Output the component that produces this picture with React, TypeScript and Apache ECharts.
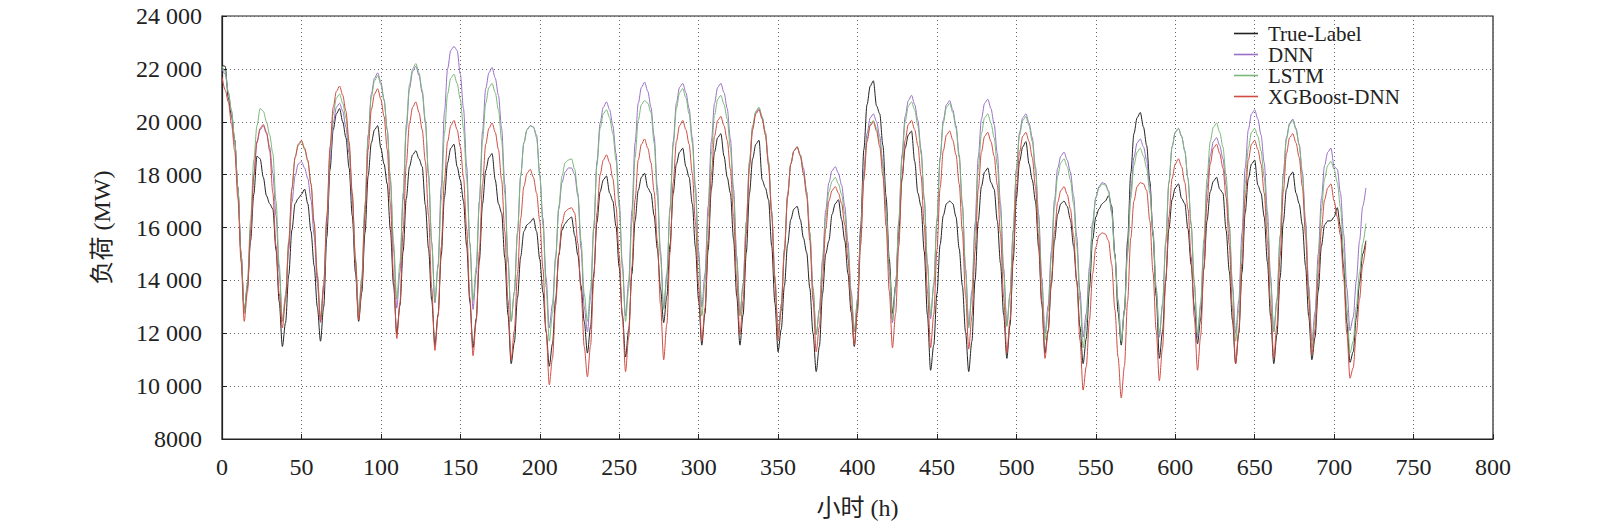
import React, { useEffect, useRef } from 'react';
import * as echarts from 'echarts';

// 采样间隔 2 h，每行为一天 (t = 0, 2, ..., 22)，最后一个点为 720 h
const STEP_H = 2;

const trueLabel = [
  22150, 22100, 20900, 20200, 19300, 17500, 15000, 12850, 13750, 15500, 17250, 18700,
  18600, 17900, 17200, 16900, 16700, 15150, 13200, 11500, 12400, 14200, 15900, 16900,
  17100, 17250, 17450, 16900, 15850, 14550, 13000, 11700, 13000, 15650, 18200, 19700,
  20300, 20500, 20000, 19400, 18250, 16450, 14300, 12450, 13550, 15800, 17950, 19200,
  19700, 19850, 19000, 18400, 17650, 15900, 13800, 12000, 13050, 15100, 17100, 18300,
  18750, 18900, 18600, 18300, 16850, 15200, 13250, 11550, 12700, 14950, 17150, 18450,
  19000, 19150, 18300, 17800, 17000, 15300, 13200, 11450, 12550, 14750, 16900, 18150,
  18650, 18800, 17800, 16900, 16550, 14850, 12700, 10850, 11650, 13350, 14900, 15850,
  16100, 16200, 16350, 15850, 14800, 13550, 12050, 10750, 11600, 13300, 14950, 15900,
  16150, 16300, 16400, 15700, 14950, 13800, 12450, 11250, 12250, 14250, 16200, 17350,
  17800, 17950, 17300, 17000, 16050, 14500, 12700, 11100, 12150, 14250, 16250, 17400,
  17900, 18050, 17500, 17300, 16450, 15200, 13700, 12400, 13400, 15350, 17300, 18400,
  18850, 19000, 18300, 17900, 16900, 15250, 13250, 11550, 12750, 15150, 17450, 18850,
  19400, 19550, 18700, 17900, 17300, 15550, 13400, 11550, 12700, 15050, 17300, 18600,
  19150, 19300, 17800, 17500, 17050, 15300, 13150, 11300, 12150, 13800, 15350, 16300,
  16700, 16800, 16300, 15600, 15050, 13700, 12000, 10550, 11500, 13500, 15000, 15500,
  16500, 16900, 17050, 16300, 15500, 14250, 12800, 11500, 13000, 16000, 18950, 20650,
  21350, 21550, 20600, 20300, 19100, 17150, 14800, 12750, 13800, 15850, 17850, 19000,
  19500, 19650, 18500, 17300, 16800, 15100, 12700, 10600, 11550, 13500, 15350, 16450,
  16900, 17000, 16900, 16400, 15200, 13800, 12050, 10550, 11700, 14000, 16250, 17550,
  18100, 18250, 17700, 17450, 16250, 14650, 12700, 11050, 12300, 14750, 17100, 18500,
  19050, 19250, 18400, 17800, 17000, 15250, 13100, 11250, 12100, 13850, 15500, 16500,
  16900, 17000, 16800, 16300, 15300, 13950, 12250, 10850, 11800, 13700, 15550, 16400,
  16700, 16900, 17000, 17200, 16800, 15000, 12800, 11550, 12850, 15500, 18050, 19550,
  20150, 20350, 19800, 19100, 17750, 15700, 13400, 11050, 12050, 14000, 15950, 17050,
  17500, 17650, 17100, 16900, 15950, 14600, 13000, 11600, 12550, 14450, 16250, 17350,
  17750, 17900, 17450, 17300, 15900, 14350, 12500, 10850, 12000, 14300, 16550, 17850,
  18400, 18550, 17600, 17300, 16400, 14700, 12650, 10850, 11950, 14100, 16200, 17450,
  17950, 18100, 17300, 16900, 16100, 14550, 12650, 11000, 11850, 13600, 15300, 16100,
  16250, 16250, 16400, 16750, 16000, 14500, 12400, 10900, 11300, 12600, 13900, 15000,
  15500,
];

const dnn = [
  22000, 21800, 21100, 20400, 19300, 17500, 15000, 12750, 13800, 15950, 18000, 19200,
  19700, 19850, 19550, 19050, 18050, 16450, 14300, 12450, 13350, 15150, 16950, 17950,
  18400, 18500, 18250, 17850, 17050, 15700, 13900, 12400, 13650, 16150, 18550, 19950,
  20550, 20700, 20400, 19800, 18800, 17050, 14750, 12750, 14100, 16850, 19500, 21050,
  21650, 21850, 21500, 20850, 19700, 17750, 15150, 12950, 14300, 17050, 19700, 21250,
  21900, 22100, 21750, 21100, 19950, 17950, 15400, 13150, 14600, 17550, 20350, 22000,
  22700, 22850, 22700, 21800, 20500, 18300, 15400, 12900, 14250, 17000, 19650, 21250,
  21850, 22050, 21650, 21000, 19750, 17650, 14850, 12450, 13550, 15800, 17950, 19200,
  19700, 19850, 19800, 19500, 18000, 16350, 14100, 12200, 13100, 14900, 16700, 17700,
  18100, 18250, 18250, 18000, 17200, 15200, 13000, 12050, 13350, 15950, 18500, 19950,
  20550, 20750, 20450, 19850, 18800, 17000, 14650, 12650, 14000, 16650, 19200, 20700,
  21300, 21500, 21150, 20550, 19450, 17550, 15100, 12950, 14250, 16750, 19250, 20700,
  21300, 21450, 21100, 20500, 19400, 17550, 15100, 13000, 14250, 16800, 19250, 20700,
  21300, 21450, 21100, 20500, 19350, 17450, 14900, 12700, 13850, 16200, 18450, 19800,
  20350, 20500, 20150, 19600, 18450, 16600, 14150, 12050, 13100, 15200, 17250, 18400,
  18900, 19050, 18750, 18250, 17350, 15800, 13700, 11950, 12900, 14800, 16650, 17700,
  18150, 18300, 18050, 17600, 16800, 15450, 13600, 12050, 13300, 15750, 18150, 19550,
  20150, 20300, 20000, 19450, 18400, 16650, 14350, 12400, 13700, 16250, 18750, 20200,
  20800, 21000, 20650, 20050, 18950, 17100, 14650, 12550, 13800, 16250, 18650, 20050,
  20650, 20800, 20450, 19850, 18750, 16900, 14450, 12300, 13600, 16150, 18650, 20100,
  20700, 20850, 20500, 19900, 18800, 16900, 14450, 12300, 13500, 15900, 18200, 19600,
  20150, 20300, 19950, 19400, 18300, 16500, 14100, 12000, 13050, 15100, 17050, 18250,
  18700, 18850, 18550, 18100, 17200, 15650, 13600, 11850, 12750, 14500, 16200, 17150,
  17550, 17700, 17650, 17400, 16600, 14950, 13250, 11750, 12900, 15150, 17350, 18650,
  19200, 19350, 19050, 18550, 17550, 15900, 13700, 11850, 13050, 15400, 17700, 19050,
  19600, 19750, 19450, 18900, 17850, 16100, 13850, 11850, 13000, 15250, 17450, 18700,
  19250, 19400, 19100, 18600, 17600, 16000, 13850, 12000, 13250, 15800, 18250, 19700,
  20300, 20450, 20100, 19500, 18450, 16600, 14150, 12050, 13250, 15650, 18000, 19400,
  19950, 20100, 19750, 19150, 18100, 16250, 13800, 11700, 12800, 15000, 17100, 18350,
  18850, 19000, 18300, 18200, 17300, 15750, 13700, 12100, 12600, 14000, 15500, 16800,
  17500,
];

const lstm = [
  22100, 21900, 21100, 20400, 19300, 17500, 15000, 12800, 13950, 16300, 18550, 19850,
  20500, 20400, 20000, 19500, 18800, 17000, 14600, 12450, 13450, 15500, 17500, 18650,
  19100, 19250, 18950, 18500, 17650, 16200, 14250, 12600, 13850, 16400, 18850, 20300,
  20900, 21050, 20700, 20150, 19050, 17250, 14850, 12750, 14100, 16800, 19400, 20950,
  21550, 21750, 21400, 20800, 19700, 17850, 15400, 13300, 14650, 17300, 19900, 21400,
  22000, 22200, 21850, 21200, 20050, 18050, 15450, 13200, 14500, 17050, 19550, 21050,
  21650, 21800, 21450, 20850, 19750, 17850, 15400, 13250, 14500, 16950, 19300, 20700,
  21300, 21450, 21100, 20450, 19300, 17300, 14700, 12450, 13550, 15800, 17950, 19200,
  19700, 19850, 19800, 19400, 18000, 16100, 13750, 11700, 12750, 14800, 16800, 17950,
  18450, 18550, 18600, 18200, 17300, 15500, 13500, 12450, 13650, 16050, 18350, 19750,
  20300, 20450, 20150, 19550, 18550, 16750, 14450, 12450, 13700, 16200, 18650, 20050,
  20650, 20800, 20700, 20350, 19200, 17200, 14900, 12900, 14150, 16650, 19100, 20500,
  21100, 21250, 20900, 20300, 19200, 17300, 14800, 12650, 13900, 16400, 18800, 20250,
  20850, 21000, 20650, 20100, 19000, 17150, 14750, 12650, 13850, 16200, 18500, 19850,
  20400, 20550, 20200, 19600, 18500, 16600, 14100, 11950, 13000, 15150, 17200, 18400,
  18900, 19050, 18750, 18050, 17350, 15800, 13700, 11950, 12850, 14600, 16350, 17350,
  17750, 17900, 17650, 17250, 16500, 15200, 13500, 12050, 13250, 15650, 17950, 19350,
  19900, 20050, 19750, 19250, 18250, 16600, 14400, 12500, 13750, 16200, 18600, 20000,
  20600, 20750, 20450, 19850, 18800, 17050, 14650, 12650, 13850, 16300, 18600, 19950,
  20550, 20700, 20350, 19750, 18650, 16800, 14350, 12200, 13400, 15850, 18200, 19550,
  20150, 20300, 19950, 19400, 18350, 16600, 14250, 12250, 13450, 15800, 18150, 19500,
  20050, 20200, 19850, 19250, 18150, 16300, 13850, 11750, 12800, 14850, 16800, 17950,
  18450, 18600, 18300, 17800, 16900, 15300, 13250, 11450, 12400, 14250, 16050, 17100,
  17500, 17650, 17600, 17350, 16550, 14900, 13200, 11700, 12800, 15000, 17100, 18350,
  18850, 19000, 18700, 18250, 17300, 15750, 13700, 11950, 13100, 15450, 17700, 19050,
  19600, 19750, 19450, 18900, 17850, 16150, 13900, 11950, 13150, 15550, 17850, 19250,
  19800, 19950, 19600, 19050, 17950, 16150, 13750, 11700, 12900, 15300, 17650, 19000,
  19600, 19750, 19450, 18900, 17900, 16200, 13950, 12050, 13250, 15650, 17950, 19350,
  19900, 20050, 19700, 19100, 18000, 16100, 13600, 11450, 12500, 14600, 16650, 17850,
  18350, 18500, 18200, 17700, 16750, 15100, 12950, 11250, 11700, 13000, 14300, 15400,
  16150,
];

const xgbDnn = [
  21700, 21200, 20750, 19900, 18900, 17100, 14700, 12450, 13550, 15800, 17950, 19250,
  19750, 19900, 19600, 18900, 17300, 15300, 13500, 12200, 13250, 15400, 17450, 18650,
  19150, 19300, 19000, 18550, 17650, 16150, 14150, 12450, 13800, 16450, 19050, 20550,
  21150, 21350, 21000, 20400, 19250, 17300, 14700, 12500, 13800, 16450, 18950, 20450,
  21050, 21250, 20850, 20200, 18950, 16900, 14150, 11800, 13150, 15850, 18400, 19950,
  20550, 20750, 20350, 19700, 18500, 16450, 13700, 11350, 12650, 15250, 17800, 19250,
  19850, 20050, 19700, 19050, 17900, 15950, 13350, 11150, 12450, 15100, 17650, 19150,
  19750, 19950, 19600, 18950, 17800, 15850, 13250, 11000, 12100, 14250, 16350, 17550,
  18050, 18200, 17900, 17300, 16250, 14450, 12100, 10050, 11050, 13050, 15000, 16150,
  16600, 16700, 16750, 16550, 15400, 13600, 11500, 10350, 11550, 14100, 16550, 18000,
  18550, 18750, 18450, 17850, 16800, 14950, 12600, 10550, 11850, 14500, 17050, 18550,
  19150, 19350, 19000, 18450, 17350, 15500, 13100, 11000, 12350, 15050, 17700, 19250,
  19850, 20050, 19700, 19150, 18050, 16200, 13800, 11700, 12950, 15500, 18000, 19450,
  20050, 20200, 19850, 19300, 18200, 16400, 14000, 11950, 13250, 15750, 18250, 19700,
  20300, 20450, 20100, 19500, 18350, 16450, 13900, 11750, 12850, 15050, 17150, 18400,
  18900, 19050, 18700, 18050, 17200, 15500, 13250, 11300, 12250, 14100, 15950, 17000,
  17400, 17550, 17300, 16900, 16100, 14800, 13050, 11550, 12800, 15350, 17800, 19250,
  19850, 20000, 19650, 19050, 17950, 16050, 13600, 11450, 12750, 15300, 17800, 19300,
  19900, 20050, 19700, 19100, 17950, 16100, 13600, 11450, 12700, 15150, 17500, 18900,
  19500, 19650, 19300, 18750, 17650, 15850, 13450, 11400, 12650, 15100, 17450, 18850,
  19450, 19600, 19250, 18700, 17600, 15750, 13350, 11250, 12500, 15000, 17450, 18850,
  19450, 19600, 19250, 18650, 17550, 15650, 13200, 11050, 12050, 14000, 15850, 16950,
  17400, 17550, 17250, 16700, 15700, 14000, 11750, 9850, 10750, 12500, 14250, 15250,
  15700, 15800, 15750, 15500, 14600, 12900, 11100, 9550, 10750, 13200, 15600, 17000,
  17550, 17700, 17650, 17400, 16250, 14300, 12100, 10200, 11450, 14000, 16400, 17850,
  18400, 18600, 18300, 17700, 16700, 14900, 12600, 10600, 11900, 14450, 16950, 18400,
  19000, 19150, 18800, 18250, 17150, 15350, 12950, 10850, 12100, 14650, 17100, 18550,
  19150, 19300, 18950, 18400, 17300, 15500, 13100, 11050, 12300, 14900, 17350, 18800,
  19400, 19550, 19200, 18650, 17550, 15700, 13300, 11200, 12150, 14100, 15950, 17050,
  17500, 17650, 17000, 16400, 15700, 14100, 12000, 10300, 10700, 12000, 13300, 14600,
  15400,
];

const seriesNames = ['True-Label', 'DNN', 'LSTM', 'XGBoost-DNN'];
const seriesValues = [trueLabel, dnn, lstm, xgbDnn];
const seriesColors = ['#222222', '#9a70c6', '#78b878', '#cf4d43'];

const FONT = '"Liberation Serif", "Times New Roman", "Noto Sans CJK SC", serif';
const TEXT_COLOR = '#222';

// 大于四位的数字按千分隔加空格，如 24 000
const formatLoad = (v: number) => {
  const s = String(v);
  return s.length > 4 ? s.slice(0, -3) + ' ' + s.slice(-3) : s;
};

const App: React.FC = () => {
  const chartRef = useRef<HTMLDivElement>(null);

  useEffect(() => {
    if (!chartRef.current) return;
    const chart = echarts.init(chartRef.current, undefined, { renderer: 'svg' });

    const gridLine = {
      show: true,
      lineStyle: { color: '#666', width: 1, type: [1, 3] as any },
    };

    const option: any = {
      animation: false,
      backgroundColor: '#fff',
      grid: {
        left: 222,
        right: 107,
        top: 16,
        bottom: 86,
        show: true,
        borderColor: '#222',
        borderWidth: 1.2,
      },
      legend: {
        orient: 'vertical',
        left: 1229,
        top: 18,
        icon: 'rect',
        itemWidth: 24,
        itemHeight: 1.6,
        itemGap: 0,
        data: seriesNames,
        textStyle: {
          fontFamily: FONT,
          fontSize: 21,
          color: TEXT_COLOR,
          padding: [0, 0, 0, 5],
        },
      },
      xAxis: {
        type: 'value',
        min: 0,
        max: 800,
        interval: 50,
        name: '小时 (h)',
        nameLocation: 'middle',
        nameGap: 57,
        nameTextStyle: { fontFamily: FONT, fontSize: 24, color: TEXT_COLOR },
        axisLine: { show: true, lineStyle: { color: '#222', width: 1.2 } },
        axisTick: { show: true, inside: true, length: 5, lineStyle: { color: '#222' } },
        axisLabel: { margin: 16, fontFamily: FONT, fontSize: 24, color: TEXT_COLOR },
        splitLine: gridLine,
      },
      yAxis: {
        type: 'value',
        min: 8000,
        max: 24000,
        interval: 2000,
        name: '负荷 (MW)',
        nameLocation: 'middle',
        nameGap: 108,
        nameTextStyle: { fontFamily: FONT, fontSize: 24, color: TEXT_COLOR },
        axisLine: { show: true, lineStyle: { color: '#222', width: 1.2 } },
        axisTick: { show: true, inside: true, length: 5, lineStyle: { color: '#222' } },
        axisLabel: {
          margin: 20,
          fontFamily: FONT,
          fontSize: 24,
          color: TEXT_COLOR,
          formatter: (v: number) => formatLoad(v),
        },
        splitLine: gridLine,
      },
      series: seriesNames.map((name, k) => ({
        name,
        type: 'line',
        data: seriesValues[k].map((v, i) => [i * STEP_H, v]),
        symbol: 'none',
        smooth: 0.3,
        smoothMonotone: 'x',
        lineStyle: { width: 1, color: seriesColors[k] },
        itemStyle: { color: seriesColors[k] },
      })),
    };

    chart.setOption(option);

    return () => {
      chart.dispose();
    };
  }, []);

  return (
    <div
      ref={chartRef}
      style={{ position: 'fixed', left: 0, top: 0, width: 1600, height: 525, background: '#fff' }}
    />
  );
};

export default App;
